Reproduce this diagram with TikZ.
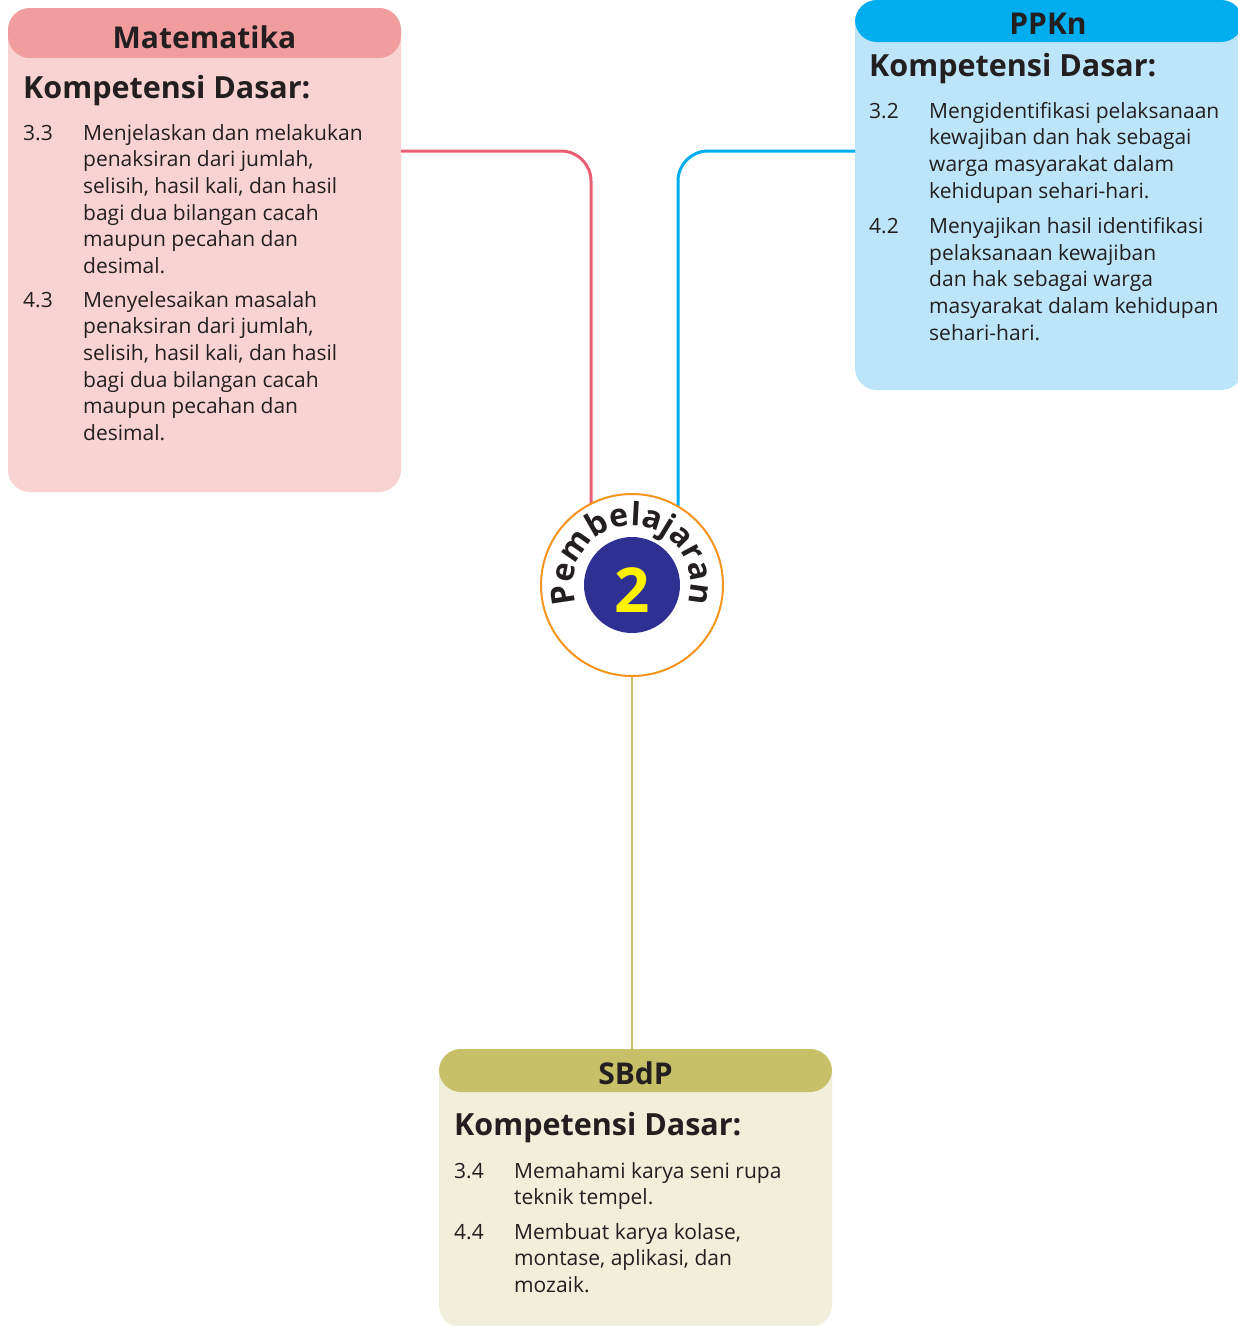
\documentclass[tikz,border=0pt]{standalone}
\usepackage{fontspec}
\setmainfont{Open Sans}
\usetikzlibrary{decorations.text}
\definecolor{matHead}{HTML}{F19C9D}
\definecolor{matBody}{HTML}{F9D3D1}
\definecolor{ppkHead}{HTML}{00AEEF}
\definecolor{ppkBody}{HTML}{BCE5F9}
\definecolor{sbdHead}{HTML}{C8BF69}
\definecolor{sbdBody}{HTML}{F1EEDA}
\definecolor{pinkLine}{HTML}{EB5E74}
\definecolor{blueLine}{HTML}{00AEEF}
\definecolor{oliveLine}{HTML}{C8C06B}
\definecolor{ringOrange}{HTML}{F7941D}
\definecolor{navy}{HTML}{2E3192}
\definecolor{numYellow}{HTML}{FFF200}
\definecolor{ink}{HTML}{231F20}
\newcommand{\kdlines}[1]{\begin{tabular}[t]{@{}l@{}}#1\end{tabular}}
\begin{document}
\begin{tikzpicture}[x=1pt,y=1pt,
  subjbox/.style={rectangle, rounded corners=22pt, inner sep=0pt, outer sep=0pt},
  title/.style={anchor=base, inner sep=0pt, text=ink, font=\fontsize{30}{32}\selectfont\bfseries},
  kd/.style={anchor=base west, inner sep=0pt, text=ink, font=\fontsize{30.5}{32}\selectfont\bfseries},
  num/.style={anchor=base west, inner sep=0pt, text=ink, font=\fontsize{21}{26.7}\selectfont},
  itemtxt/.style={anchor=base west, inner sep=0pt, text=ink, font=\fontsize{21}{26.7}\selectfont},
  conn/.style={line width=3pt, rounded corners=30pt}
]
\clip (0,0) rectangle (1238,-1326);
\fill[white] (0,0) rectangle (1238,-1326);

% ---- boxes
\node[subjbox, fill=matBody, minimum width=393pt, minimum height=484pt] (mat) at (204.5,-250) {};
\fill[matHead, rounded corners=22pt] (mat.north west) rectangle ++(393,-50);
\node[subjbox, fill=ppkBody, minimum width=388pt, minimum height=390pt] (ppk) at (1049,-195) {};
\fill[ppkHead, rounded corners=22pt] (ppk.north west) rectangle ++(388,-42);
\node[subjbox, fill=sbdBody, minimum width=393pt, minimum height=278pt] (sbd) at (635.5,-1188) {};
\fill[sbdHead, rounded corners=22pt] (sbd.north west) rectangle ++(393,-43);

% ---- connectors
\coordinate (pinkbend) at (591,-151);
\coordinate (bluebend) at (678,-151);
\draw[conn, pinkLine] (mat.east |- pinkbend) -- (pinkbend) -- (591,-585);
\draw[conn, blueLine] (ppk.west |- bluebend) -- (bluebend) -- (678,-585);

% ---- centre badge
\node[circle, draw=ringOrange, fill=white, line width=2pt, minimum size=182pt, inner sep=0pt] (circ) at (632,-585) {};
\draw[oliveLine, line width=2.5pt] (circ.south) -- (circ.south |- sbd.north);
\node[circle, fill=navy, minimum size=96pt, inner sep=0pt] (inner) at (circ) {};
\node[inner sep=0pt, text=numYellow, font=\fontsize{62}{62}\selectfont\bfseries] (two) at (632,-590) {2};
\path[decorate, decoration={text along path, text align=center,
   text={|\fontsize{32}{32}\selectfont\bfseries\color{ink}|Pembelajaran}}]
   (circ.center) ++(193:59) arc[start angle=193, end angle=-13, radius=59];

% ---- Matematika
\node[title] (matT) at (204.5,-48) {Matematika};
\node[kd] (matK) at (23,-98) {Kompetensi Dasar:};
\node[num] (matN1) at (23,-140) {3.3};
\node[itemtxt] (matI1) at (83,-140) {\kdlines{Menjelaskan dan melakukan\\penaksiran dari jumlah,\\selisih, hasil kali, dan hasil\\bagi dua bilangan cacah\\maupun pecahan dan\\desimal.}};
\node[num] (matN2) at (23,-307) {4.3};
\node[itemtxt] (matI2) at (83,-307) {\kdlines{Menyelesaikan masalah\\penaksiran dari jumlah,\\selisih, hasil kali, dan hasil\\bagi dua bilangan cacah\\maupun pecahan dan\\desimal.}};

% ---- PPKn
\node[title] (ppkT) at (1048,-34) {PPKn};
\node[kd] (ppkK) at (869,-76) {Kompetensi Dasar:};
\node[num] (ppkN1) at (869,-118) {3.2};
\node[itemtxt] (ppkI1) at (929,-118) {\kdlines{Mengidentifikasi pelaksanaan\\kewajiban dan hak sebagai\\warga masyarakat dalam\\kehidupan sehari-hari.}};
\node[num] (ppkN2) at (869,-233.5) {4.2};
\node[itemtxt] (ppkI2) at (929,-233.5) {\kdlines{Menyajikan hasil identifikasi\\pelaksanaan kewajiban\\dan hak sebagai warga\\masyarakat dalam kehidupan\\sehari-hari.}};

% ---- SBdP
\node[title] (sbdT) at (635.5,-1084) {SBdP};
\node[kd] (sbdK) at (454,-1135) {Kompetensi Dasar:};
\node[num] (sbdN1) at (454,-1178) {3.4};
\node[itemtxt] (sbdI1) at (514,-1178) {\kdlines{Memahami karya seni rupa\\teknik tempel.}};
\node[num] (sbdN2) at (454,-1239) {4.4};
\node[itemtxt] (sbdI2) at (514,-1239) {\kdlines{Membuat karya kolase,\\montase, aplikasi, dan\\mozaik.}};
\end{tikzpicture}
\end{document}
